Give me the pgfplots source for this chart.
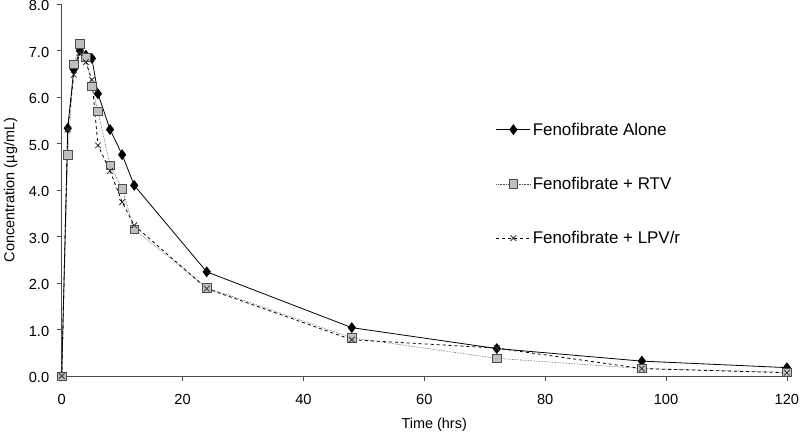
\documentclass[border=0pt]{standalone}
\usepackage{pgfplots}
\pgfplotsset{compat=1.18}
\usepackage{fontspec}
\setmainfont{Liberation Sans}
\pgfplotstableread{
t alone rtv lpv
0 0 0 0
1 5.33 4.76 5.30
2 6.59 6.70 6.48
3 7.00 7.14 6.95
4 6.90 6.85 6.75
5 6.83 6.23 6.37
6 6.07 5.69 4.96
8 5.30 4.53 4.41
10 4.76 4.03 3.74
12 4.10 3.15 3.24
24 2.24 1.90 1.88
48 1.04 0.82 0.78
72 0.59 0.38 0.60
96 0.32 0.16 0.16
120 0.18 0.08 0.07
}\data
\begin{document}
\begin{tikzpicture}
\useasboundingbox (-61.7bp,-57bp) rectangle (738.3bp,376bp);
\begin{axis}[
  at={(0,0)}, anchor=south west,
  scale only axis,
  width=727bp, height=372bp,
  xmin=0, xmax=120.3, ymin=0, ymax=8,
  axis lines=left,
  axis line style={black!70, -},
  xtick={0,20,...,120},
  ytick={0,1,...,8},
  tick align=outside,
  major tick length=5bp,
  tick style={black!70},
  /pgf/number format/assume math mode=true,
  ticklabel style={font=\fontsize{14.7}{17}\selectfont},
  xticklabel style={yshift=-10bp},
  yticklabel style={xshift=-4bp, yshift=-1.5bp, /pgf/number format/.cd, fixed, fixed zerofill, precision=1},
  xlabel={Time (hrs)},
  ylabel={Concentration (µg/mL)},
  label style={font=\fontsize{14.5}{17}\selectfont},
  xlabel style={at={(rel axis cs:0.5,0)}, anchor=center, yshift=-49bp, xshift=9bp},
  ylabel style={at={(rel axis cs:0,0.5)}, anchor=center, yshift=51bp},
  legend style={draw=none, at={(rel axis cs:0.593,0.692)}, anchor=north west,
    font=\fontsize{17}{20}\selectfont, row sep=36.5bp, fill=none,
    /tikz/every even column/.append style={column sep=4bp}},
  legend cell align=left,
  legend image code/.code={\draw[mark repeat=2,mark phase=2] plot coordinates {(0bp,0bp) (17bp,0bp) (34bp,0bp)};},
]
\addplot[black, line width=0.8pt, mark=diamond*, mark size=4.8bp, mark options={solid, fill=black}] table[x=t,y=alone] {\data};
\addlegendentry{Fenofibrate Alone}
\addplot[black!70, line width=0.6pt, densely dotted, mark=square*, mark size=4.2bp, mark options={solid, fill=black!25, draw=black!70, line width=0.6pt}] table[x=t,y=rtv] {\data};
\addlegendentry{Fenofibrate + RTV}
\addplot[black, line width=0.8pt, dashed, mark=x, mark size=4bp, mark options={solid, black!80, line width=0.8pt}] table[x=t,y=lpv] {\data};
\addlegendentry{Fenofibrate + LPV/r}
\end{axis}
\end{tikzpicture}
\end{document}
